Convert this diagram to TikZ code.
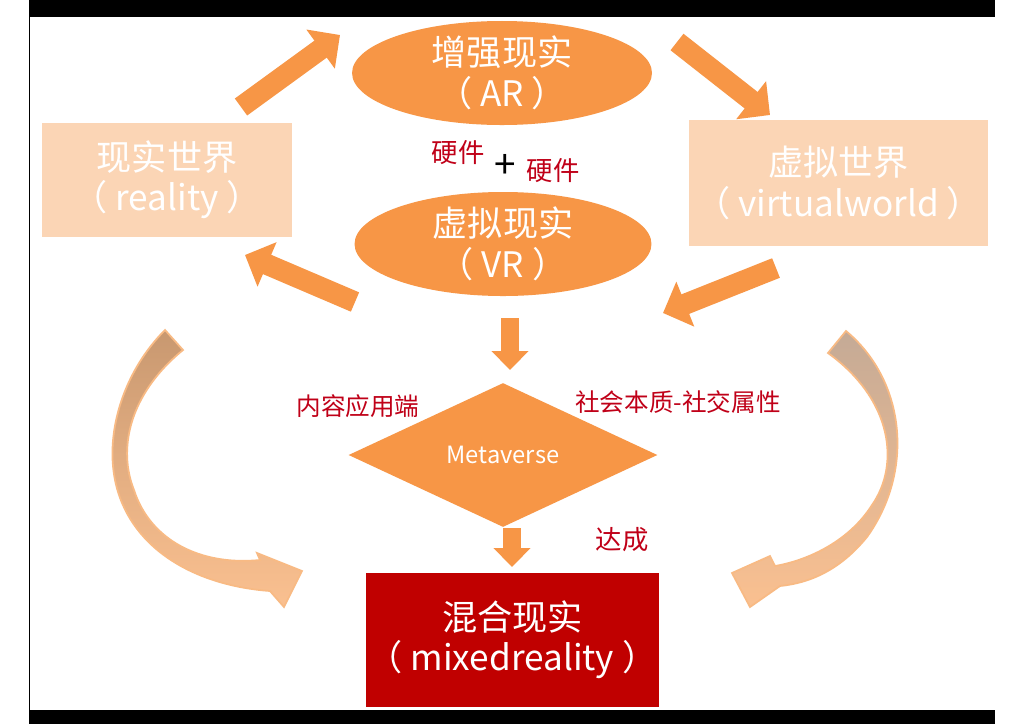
\documentclass[tikz,border=0pt]{standalone}
\usepackage{fontspec}
\setmainfont{Noto Sans CJK SC}
\usetikzlibrary{arrows.meta,shapes.geometric}
\definecolor{mvorange}{HTML}{F79646}
\definecolor{mvpeach}{HTML}{FBD5B5}
\definecolor{mvred}{HTML}{C00000}
\definecolor{mvtext}{HTML}{C00018}
\definecolor{mvlight}{HTML}{FAC090}
\definecolor{mvbrown}{RGB}{200,152,112}
\definecolor{mvtan}{RGB}{196,170,150}
\definecolor{mvedge}{RGB}{248,186,132}
\begin{document}
\begin{tikzpicture}[x=0.02cm,y=-0.02cm,
    bigtext/.style={align=center,text=white,font=\fontsize{20}{23}\selectfont},
    oval/.style={bigtext,ellipse,fill=mvorange,inner sep=0pt},
    box/.style={bigtext,rectangle,inner sep=0pt},
    notetext/.style={text=mvtext,font=\fontsize{14}{16}\selectfont},
    blockarrow/.style={mvorange,line width=0.42cm,-{Triangle[width=0.94cm,length=0.48cm]}},
    downarrow/.style={mvorange,line width=0.36cm,-{Triangle[width=0.72cm,length=0.38cm]}},
    curvearrow/.style={draw=mvedge,line width=1pt,bottom color=mvlight}]
    \useasboundingbox (0,0) rectangle (1024,724);
    \fill[white] (0,0) rectangle (1024,724);
    \fill[black] (29,0) rectangle (995,17);
    \fill[black] (29,710) rectangle (995,724);
    \draw[line width=0.03cm] (29.5,17) -- (29.5,710);
    \shadedraw[curvearrow,top color=mvbrown,middle color=mvbrown!45!mvlight] (165,330) .. controls (125,370) and (105,430) .. (115,480)
        .. controls (128,545) and (190,585) .. (270,591) -- (284,607) -- (302,571) -- (257,553) -- (260,560)
        .. controls (200,566) and (150,540) .. (134,490) .. controls (118,450) and (128,395) .. (183,350) -- cycle;
    \shadedraw[curvearrow,top color=mvtan,middle color=mvtan!45!mvlight] (846,331) .. controls (905,380) and (915,470) .. (867,537)
        .. controls (840,570) and (810,583) .. (780,586) -- (750,607) -- (732,573) -- (770,556) -- (775,566)
        .. controls (810,560) and (850,540) .. (872,505) .. controls (900,465) and (893,400) .. (828,353) -- cycle;
    \node[oval,minimum width=6cm,minimum height=2cm] (ar) at (502,73) {增强现实\\（ AR ）};
    \node[oval,minimum width=5.94cm,minimum height=1.96cm] (vr) at (503,244) {虚拟现实\\（ VR ）};
    \node[box,fill=mvpeach,minimum width=5cm,minimum height=2.28cm] (real) at (167,180) {现实世界\\（ reality ）};
    \node[box,fill=mvpeach,minimum width=5.98cm,minimum height=2.52cm] (virt) at (838.5,183) {虚拟世界\\（ virtualworld ）};
    \node[diamond,fill=mvorange,text=white,inner sep=0pt,aspect=2.15,minimum width=6.18cm,minimum height=2.88cm,
        font=\fontsize{13.5}{15}\selectfont] (meta) at (503,455) {Metaverse};
    \node[box,fill=mvred,minimum width=5.86cm,minimum height=2.68cm] (mix) at (512.5,640) {混合现实\\（ mixedreality ）};
    \node[notetext,font=\fontsize{15}{17}\selectfont] (hw1) at (458,153) {硬件};
    \node[font=\fontsize{22}{22}\selectfont] (plus) at (505,166) {+};
    \node[notetext,font=\fontsize{15}{17}\selectfont] (hw2) at (553,171) {硬件};
    \node[notetext] (app) at (358,406) {内容应用端};
    \node[notetext] (soc) at (678,402) {社会本质-社交属性};
    \node[notetext,font=\fontsize{15}{17}\selectfont] (done) at (622,540) {达成};
    \coordinate (real-out) at (241,107);
    \coordinate (ar-in) at (340,35);
    \coordinate (ar-out) at (677,42);
    \coordinate (virt-in) at (770,115);
    \coordinate (virt-out) at (776,268);
    \coordinate (vr-in) at (663,313);
    \coordinate (vr-out) at (355,302);
    \coordinate (real-in) at (245,255);
    \draw[blockarrow] (real-out) -- (ar-in);
    \draw[blockarrow] (ar-out) -- (virt-in);
    \draw[blockarrow] (virt-out) -- (vr-in);
    \draw[blockarrow] (vr-out) -- (real-in);
    \coordinate (vr-down) at (510,318);
    \coordinate (meta-in) at (510,370);
    \coordinate (meta-out) at (512,528);
    \coordinate (mix-in) at (512,567);
    \draw[downarrow] (vr-down) -- (meta-in);
    \draw[downarrow] (meta-out) -- (mix-in);
\end{tikzpicture}
\end{document}
